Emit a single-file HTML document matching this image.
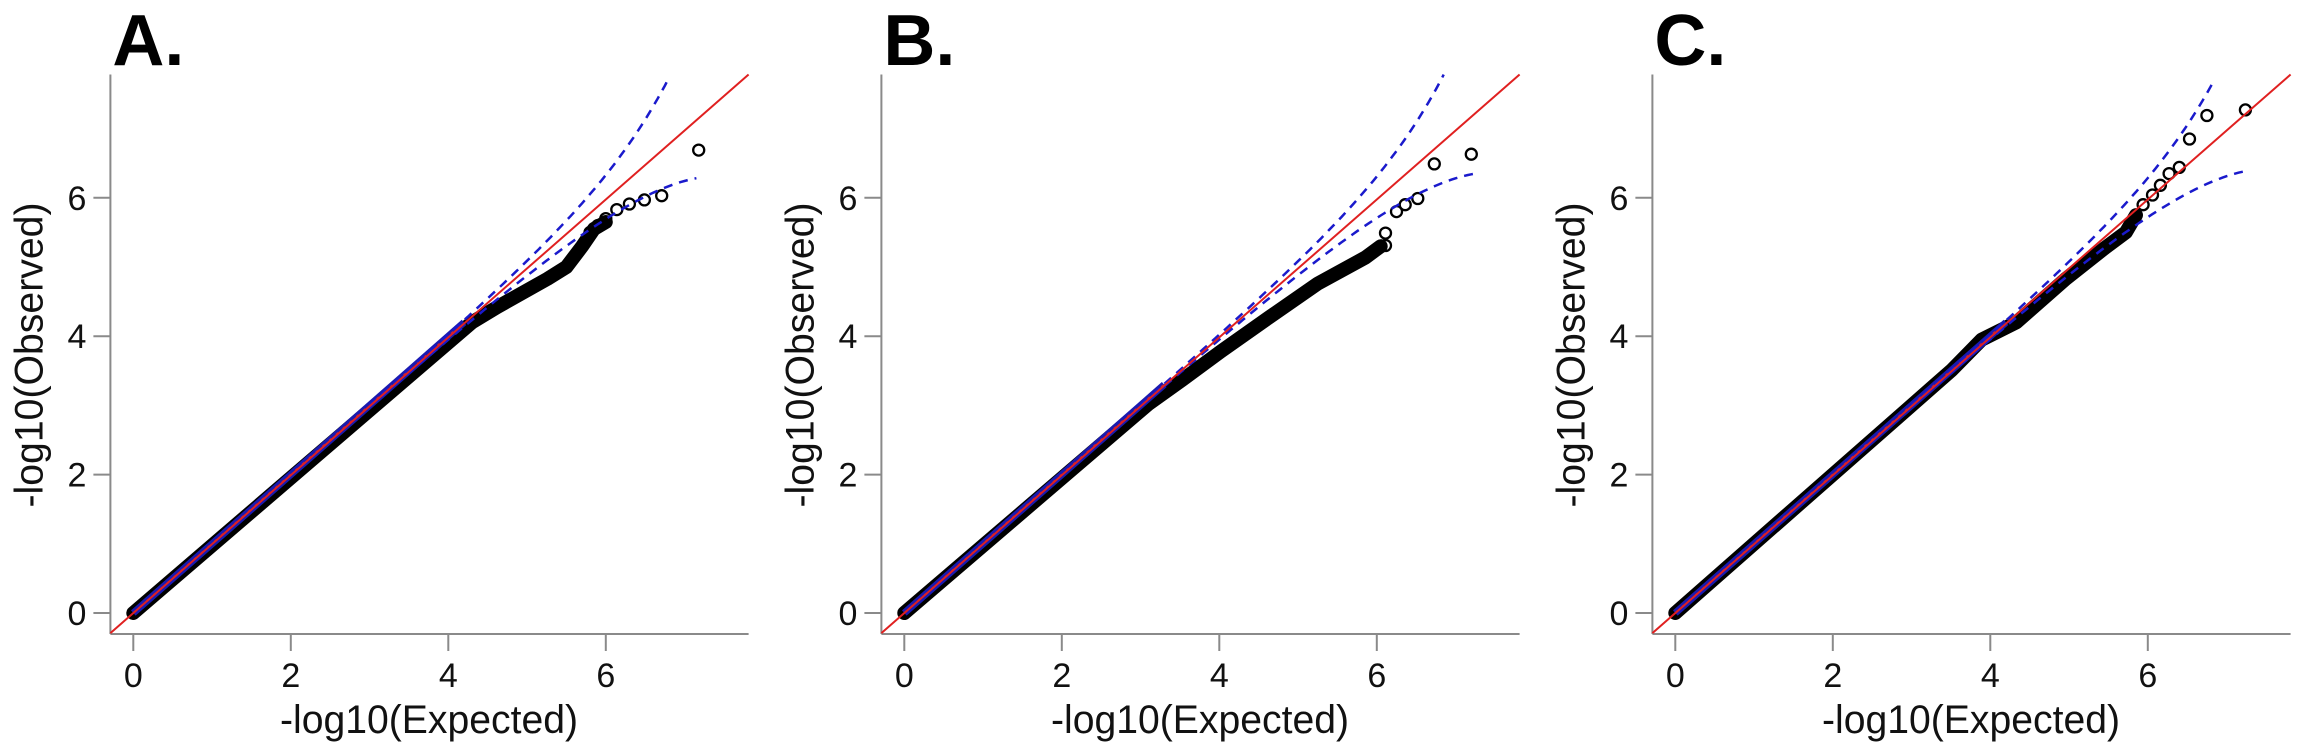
<!DOCTYPE html>
<html><head><meta charset="utf-8"><style>
html,body{margin:0;padding:0;background:#fff;}
svg{display:block;}
</style></head><body>
<svg id="s" width="2297" height="754" xmlns="http://www.w3.org/2000/svg" font-family="Liberation Sans, Arial, sans-serif"></svg>
<script>
var S=document.getElementById('s');var out='';
var panels=[
{off:0,lab:'A.',bl:4.2,obs:[[0,0],[4.3,4.2],[4.62,4.42],[5.26,4.83],[5.5,5.0],[5.7,5.3],[5.85,5.55],[6.0,5.65]],
 circ:[[5.8,5.5],[5.9,5.6],[6.0,5.7],[6.14,5.83],[6.3,5.91],[6.49,5.97],[6.71,6.03],[7.18,6.69]],up:[6.84,7.82],lo:[7.18,6.29]},
{off:771,lab:'B.',bl:3.3,obs:[[0,0],[3.1,3.02],[3.53,3.37],[4.02,3.78],[4.63,4.27],[5.25,4.76],[5.86,5.14],[6.05,5.3]],
 circ:[[6.11,5.31],[6.11,5.49],[6.25,5.8],[6.36,5.9],[6.52,5.99],[6.73,6.49],[7.2,6.63]],up:[6.85,7.78],lo:[7.25,6.35]},
{off:1542,lab:'C.',bl:4.2,obs:[[0,0],[3.51,3.51],[3.89,3.95],[4.33,4.2],[4.96,4.83],[5.46,5.28],[5.72,5.5],[5.85,5.75]],
 circ:[[5.94,5.9],[6.06,6.04],[6.16,6.18],[6.27,6.35],[6.4,6.44],[6.53,6.85],[6.75,7.19],[7.24,7.27]],up:[6.88,7.78],lo:[7.26,6.39]}
];
panels.forEach(function(p){
 var x0=133.3+p.off, ya=110.4+p.off;
 function X(u){return x0+78.75*u;} function Y(v){return 613-69.2*v;}
 out+='<line x1="'+ya+'" y1="74.5" x2="'+ya+'" y2="634" stroke="#8a8a8a" stroke-width="2"/>';
 out+='<line x1="'+ya+'" y1="634" x2="'+(748.6+p.off)+'" y2="634" stroke="#8a8a8a" stroke-width="2"/>';
 for(var t=0;t<=6;t+=2){
  out+='<line x1="'+(ya-17)+'" y1="'+Y(t)+'" x2="'+ya+'" y2="'+Y(t)+'" stroke="#8a8a8a" stroke-width="2"/>';
  out+='<text x="'+(ya-24)+'" y="'+(Y(t)+12)+'" font-size="34" text-anchor="end" fill="#111">'+t+'</text>';
  out+='<line x1="'+X(t)+'" y1="634" x2="'+X(t)+'" y2="651" stroke="#8a8a8a" stroke-width="2"/>';
  out+='<text x="'+X(t)+'" y="687" font-size="34" text-anchor="middle" fill="#111">'+t+'</text>';
 }
 out+='<text x="'+(429+p.off)+'" y="733" font-size="40" text-anchor="middle" textLength="298" lengthAdjust="spacingAndGlyphs" fill="#111">-log10(Expected)</text>';
 var tx=ya-68;
 out+='<text transform="translate('+tx+',355) rotate(-90)" x="0" y="0" font-size="40" text-anchor="middle" textLength="305" lengthAdjust="spacingAndGlyphs" fill="#111">-log10(Observed)</text>';
 out+='<text x="'+(ya+2)+'" y="65" font-size="72" font-weight="bold" fill="#000">'+p.lab+'</text>';
 var d=p.obs.map(function(q,i){return (i?'L':'M')+X(q[0]).toFixed(1)+','+Y(q[1]).toFixed(1);}).join('');
 out+='<path d="'+d+'" fill="none" stroke="#000" stroke-width="14" stroke-linecap="round" stroke-linejoin="round"/>';
 out+='<line x1="'+X(0)+'" y1="'+Y(0)+'" x2="'+X(p.bl)+'" y2="'+Y(p.bl)+'" stroke="#1a1ab0" stroke-width="7"/>';
 out+='<line x1="'+X(0)+'" y1="'+Y(0)+'" x2="'+X(p.bl)+'" y2="'+Y(p.bl)+'" stroke="#c02040" stroke-width="2" stroke-dasharray="3,6"/>';
 p.circ.forEach(function(c){out+='<circle cx="'+X(c[0]).toFixed(1)+'" cy="'+Y(c[1]).toFixed(1)+'" r="5.5" fill="none" stroke="#000" stroke-width="2.3"/>';});
 var uu=p.up,ll=p.lo,a=uu[1]-uu[0],b=ll[0]-ll[1];
 var du='',dl='';
 for(var u=3.0;u<=uu[0]+1e-6;u+=0.05){du+=(du?'L':'M')+X(u).toFixed(1)+','+Y(u+a*Math.exp(1.3*(u-uu[0]))).toFixed(1);}
 for(var u=3.0;u<=ll[0]+1e-6;u+=0.05){dl+=(dl?'L':'M')+X(u).toFixed(1)+','+Y(u-b*Math.exp(0.9*(u-ll[0]))).toFixed(1);}
 out+='<path d="'+du+'" fill="none" stroke="#1a1acc" stroke-width="2.5" stroke-dasharray="9,7"/>';
 out+='<path d="'+dl+'" fill="none" stroke="#1a1acc" stroke-width="2.5" stroke-dasharray="9,7"/>';
 out+='<line x1="'+ya+'" y1="'+Y((ya-x0)/78.75)+'" x2="'+(748.6+p.off)+'" y2="74.5" stroke="#e02020" stroke-width="2"/>';
});
S.innerHTML=out;
</script>
</body></html>
